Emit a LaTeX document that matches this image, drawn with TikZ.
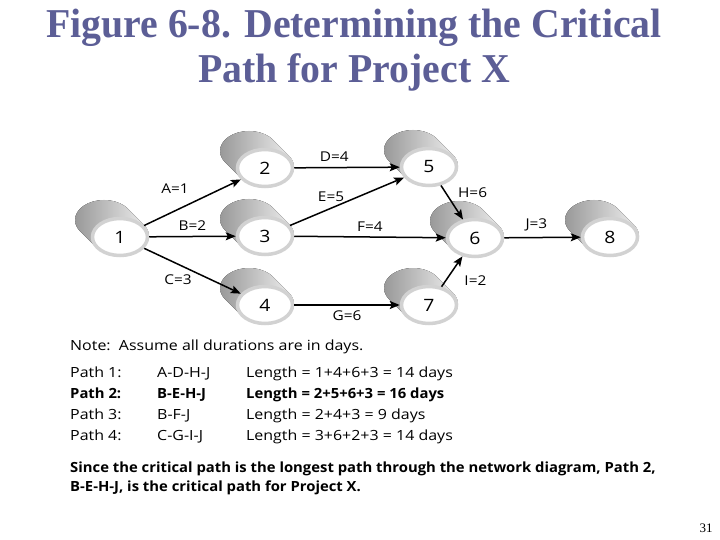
\documentclass[tikz,border=0pt]{standalone}
\usepackage{fontspec}
\setmainfont{Liberation Serif}
\newfontfamily\titlefont{Liberation Serif}[FakeStretch=0.97]
\newfontfamily\figsans{Open Sans}[FakeStretch=1.14]
\newfontfamily\figsansb{Open Sans}[FakeStretch=1.06]
\usetikzlibrary{shapes.geometric,arrows.meta}
\definecolor{titleblue}{RGB}{92,94,150}

\begin{document}
\begin{tikzpicture}[x=1pt,y=-1pt,
        event/.style={ellipse, draw=gray!35, line width=3.5pt, fill=white, minimum width=55pt, minimum height=37pt, inner sep=0pt, font=\figsans\fontsize{17}{17}\selectfont},
        act/.style={draw, -{Stealth[length=10pt,width=8pt,inset=2pt]}, line width=1.5pt},
        lbl/.style={font=\figsans\fontsize{13.5}{13.5}\selectfont, inner sep=1pt},
        txt/.style={anchor=west, inner sep=0pt, text height=10pt, text depth=3pt, font=\figsans\fontsize{14}{14}\selectfont},
        btxt/.style={txt, font=\figsansb\bfseries\fontsize{14}{14}\selectfont},
    ]
    \useasboundingbox (0,0) rectangle (720,540);
    \node[font=\titlefont\bfseries\fontsize{41}{45}\selectfont, text=titleblue, align=center] (title) at (354,50) {Figure 6-8. Determining the Critical\\Path for Project X};

    \foreach \x/\y in {120/237, 265/168, 265/236, 265/305, 429/167, 475/238, 429/305, 610/237}{
        \fill[left color=gray!80, right color=gray!12]
            foreach \k in {0,...,16}{ (\x-16+\k,\y-17+\k) ellipse (29pt and 20pt) };
    }

    \node[event] (n1) at (120,237) {1};
    \node[event] (n2) at (265,168) {2};
    \node[event] (n3) at (265,236) {3};
    \node[event] (n4) at (265,305) {4};
    \node[event] (n5) at (429,167) {5};
    \node[event] (n6) at (475,238) {6};
    \node[event] (n7) at (429,305) {7};
    \node[event] (n8) at (610,237) {8};

    \draw[act] (n1) -- node[lbl, pos=0.32, above=16pt] (la) {A=1} (n2);
    \draw[act] (n1) -- node[lbl, pos=0.5, above=4pt] (lb) {B=2} (n3);
    \draw[act] (n1) -- node[lbl, pos=0.35, below=9pt] (lc) {C=3} (n4);
    \draw[act] (n2) -- node[lbl, pos=0.38, above=4pt] (ld) {D=4} (n5);
    \draw[act] (n3) -- node[lbl, pos=0.36, above=5pt] (le) {E=5} (n5);
    \draw[act] (n3) -- node[lbl, pos=0.5, above=4pt] (lf) {F=4} (n6);
    \draw[act] (n4) -- node[lbl, pos=0.5, below=4pt] (lg) {G=6} (n7);
    \draw[act] (n5) -- node[lbl, pos=0.2, right=11pt] (lh) {H=6} (n6);
    \draw[act] (n7) -- node[lbl, pos=0.2, right=17pt] (li) {I=2} (n6);
    \draw[act] (n6) -- node[lbl, pos=0.42, above=5pt] (lj) {J=3} (n8);

    \node[txt] (note) at (70,347) {Note:\ \ Assume all durations are in days.};
    \node[txt] (p1) at (70,374) {Path 1:};
    \node[txt] (r1) at (157,374) {A-D-H-J};
    \node[txt] (l1) at (246,374) {Length = 1+4+6+3 = 14 days};
    \node[btxt] (p2) at (70,395) {Path 2:};
    \node[btxt] (r2) at (157,395) {B-E-H-J};
    \node[btxt] (l2) at (246,395) {Length = 2+5+6+3 = 16 days};
    \node[txt] (p3) at (70,416) {Path 3:};
    \node[txt] (r3) at (157,416) {B-F-J};
    \node[txt] (l3) at (246,416) {Length = 2+4+3 = 9 days};
    \node[txt] (p4) at (70,437) {Path 4:};
    \node[txt] (r4) at (157,437) {C-G-I-J};
    \node[txt] (l4) at (246,437) {Length = 3+6+2+3 = 14 days};
    \node[btxt] (since1) at (70,469) {Since the critical path is the longest path through the network diagram, Path 2,};
    \node[btxt] (since2) at (70,488) {B-E-H-J, is the critical path for Project X.};

    \node[font=\fontsize{13}{13}\selectfont] (page) at (706,528) {31};
\end{tikzpicture}
\end{document}
